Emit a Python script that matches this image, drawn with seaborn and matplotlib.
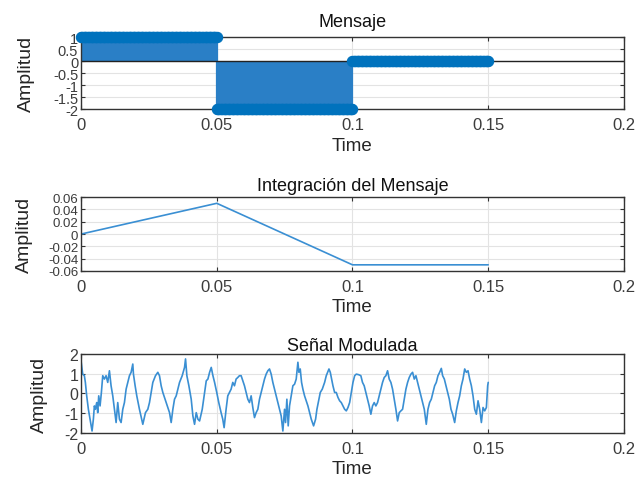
import numpy as np
import pandas as pd
import matplotlib
matplotlib.use("Agg")
import matplotlib.pyplot as plt
import seaborn as sns

# ---------------- data ----------------
# Message: piecewise constant levels, densely sampled (stem plot)
msg_seg_start = [0.0, 0.05, 0.10]
msg_seg_end = [0.05, 0.10, 0.15]
msg_levels = [1.0, -2.0, 0.0]
msg_step = 0.0005

# Integration of the message
int_time = [0.0, 0.05, 0.10, 0.15]
int_values = [0.0, 0.05, -0.05, -0.05]

# Modulated signal, time in ms
mod_time_ms = [
    0.0, 0.62, 1.23, 1.6, 2.09, 2.71, 3.32, 4.06, 4.55, 4.92, 5.29, 5.78, 6.15, 6.52,
    7.01, 7.5, 8.0, 8.61, 9.23, 9.84, 10.46, 11.07, 11.69, 12.3, 12.92, 13.53, 14.15,
    14.76, 15.38, 15.99, 16.61, 17.22, 17.84, 18.45, 19.07, 19.31, 19.93, 20.54, 21.52,
    22.76, 23.74, 24.6, 25.22, 25.83, 26.45, 27.43, 28.29, 28.9, 29.52, 30.14, 31.37,
    32.6, 33.21, 33.83, 34.44, 35.06, 35.67, 36.29, 37.27, 38.13, 38.5, 38.99, 39.73,
    40.59, 41.21, 41.82, 42.44, 43.05, 43.67, 44.65, 45.51, 46.13, 46.74, 47.36, 47.97,
    48.59, 49.2, 50.0,
    50.74, 51.6, 52.21, 52.71, 53.44, 54.06, 54.67, 55.29, 55.9, 56.52, 57.13, 57.75,
    58.36, 58.98, 59.59, 60.21, 60.82, 61.44, 62.05, 62.67, 63.28, 63.9, 64.51, 65.13,
    65.74, 66.36, 66.97, 67.59, 68.2, 68.82, 69.43, 70.05, 70.66, 71.28, 71.89, 72.51,
    73.12, 73.74, 74.35, 74.97, 75.34, 75.83, 76.32, 76.81, 77.43, 78.04, 78.66, 79.27,
    79.89, 80.26, 80.75, 81.24, 81.73, 82.35, 82.96, 83.58, 84.19, 84.81, 85.67, 86.41,
    86.9, 87.64, 88.13, 88.87, 89.73, 90.34, 91.33, 91.82, 92.31, 92.8, 93.42, 94.03,
    94.65, 95.26, 95.87, 96.49, 97.11, 97.72, 98.34, 98.95, 99.57, 100.18, 100.8, 101.4,
    102.3, 103.08, 103.69, 104.31, 104.92, 105.54, 106.15, 106.77, 107.38, 108.0, 108.61,
    109.23, 109.84, 110.46, 111.07, 111.69, 112.3, 112.92, 113.53, 114.15, 114.76,
    115.38, 115.99, 116.61, 117.22, 117.84, 118.45, 119.07, 119.68, 120.3, 120.91,
    121.53, 122.14, 122.76, 123.37, 123.99, 124.6, 125.22, 125.83, 126.45, 127.18,
    127.8, 128.41, 129.03, 129.64, 130.26, 130.87, 131.49, 132.1, 132.72, 133.21,
    133.83, 134.44, 135.06, 135.67, 136.29, 136.9, 137.64, 138.25, 138.87, 139.48,
    140.1, 140.71, 141.33, 141.94, 142.56, 143.17, 143.79, 144.4, 145.02, 145.63,
    146.25, 146.86, 147.48, 148.09, 148.71, 149.32, 149.8, 150.0,
]
mod_values = [
    1.66, 0.98, 0.9, 0.56, -0.12, -0.8, -1.3, -1.9, -1.3, -0.63, -0.8, -0.46, -0.97, -0.12,
    -0.63, 0.05, 0.9, 0.73, 0.9, 0.56, 1.15, 0.39, -0.12, -0.8, -1.47, -0.46, -1.3,
    -1.47, -0.8, -0.46, 0.22, 0.56, 0.9, 1.07, 1.49, 0.98, 0.39, -0.12, -0.8,
    -1.56, -0.97, -0.8, -0.46, 0.05, 0.56, 0.9, 1.07, 0.9, 0.39, 0.05, -0.46,
    -0.97, -1.47, -0.8, -0.29, -0.12, 0.22, 0.56, 0.9, 1.32, 1.75, 0.9, 0.39,
    -0.29, -1.14, -1.56, -0.97, -1.3, -1.39, -0.8, 0.05, 0.64, 0.73, 1.07, 1.32,
    0.9, 0.56, 0.05,
    -0.46, -0.97, -1.3, -1.73, -0.8, -0.12, 0.05, 0.22, 0.56, 0.39, 0.73, 0.81,
    0.9, 0.9, 0.64, 0.39, 0.05, -0.29, -0.46, -0.12, -0.71, -1.22, -0.97, -0.8,
    -0.29, 0.05, 0.39, 0.73, 0.98, 1.15, 1.24, 0.98, 0.56, 0.22, -0.12, -0.46,
    -0.8, -1.14, -1.9, -0.8, -1.47, -0.29, -1.64, -0.63, -0.12, 0.39, 0.47, 0.73,
    1.58, 1.07, 1.24, 0.56, 0.22, -0.12, -0.37, -0.63, -0.97, -1.3, -1.64, -1.3,
    -0.8, -0.29, 0.05, 0.22, 0.56, 0.9, 1.24, 1.07, 0.73, 0.39, 0.05, 0.05,
    -0.2, -0.37, -0.46, -0.63, -0.8, -0.88, -0.71, -0.46, 0.05, 0.56, 0.9, 0.98,
    0.95, 0.9, 0.56, 0.39, 0.05, -0.29, -0.63, -1.05, -0.63, -0.46, -0.63,
    -0.46, -0.12, 0.22, 0.56, 0.81, 0.9, 1.15, 0.73, 0.56, 0.22,
    -0.29, -0.8, -1.39, -0.97, -0.88, -0.8, -0.29, 0.22, 0.56, 0.81,
    0.98, 1.07, 0.73, 0.9, 0.56, 0.22, -0.12, -0.46, -0.8, -1.56,
    -0.8, -0.46, -0.29, 0.05, 0.39, 0.56, 0.9, 1.07, 1.27, 0.9,
    0.73, 0.39, 0.05, -0.29, -0.8, -1.05, -1.47, -0.88, -0.46, -0.12,
    0.39, 0.73, 1.24, 1.07, 1.15, 0.73, 0.39, -0.12, -0.8, -1.05,
    -0.37, -0.8, -1.47, -0.71, -0.88, -0.71, 0.39, 0.56,
]

x_ticks = [0, 0.05, 0.1, 0.15, 0.2]
x_tick_labels = ["0", "0.05", "0.1", "0.15", "0.2"]
msg_yticks = [-2, -1.5, -1, -0.5, 0, 0.5, 1]
msg_ytick_labels = ["-2", "-1.5", "-1", "-0.5", "0", "0.5", "1"]
int_yticks = [-0.06, -0.04, -0.02, 0, 0.02, 0.04, 0.06]
int_ytick_labels = ["-0.06", "-0.04", "-0.02", "0", "0.02", "0.04", "0.06"]
mod_yticks = [-2, -1, 0, 1, 2]
mod_ytick_labels = ["-2", "-1", "0", "1", "2"]

titles = ["Mensaje", "Integración del Mensaje", "Señal Modulada"]
x_label = "Time"
y_label = "Amplitud"

# ---------------- build tables ----------------
msg_t, msg_v = [], []
for s, e, lv in zip(msg_seg_start, msg_seg_end, msg_levels):
    tt = np.arange(s, e + msg_step / 2, msg_step)
    msg_t.extend(tt)
    msg_v.extend([lv] * len(tt))
df_msg = pd.DataFrame({"t": msg_t, "v": msg_v})
df_int = pd.DataFrame({"t": int_time, "v": int_values})
df_mod = pd.DataFrame({"t": np.array(mod_time_ms) / 1000.0, "v": mod_values})

# ---------------- style ----------------
sns.set_theme(style="whitegrid")
plt.rcParams["font.family"] = ["Liberation Sans", "DejaVu Sans"]

blue = "#0072BD"
stem_blue = "#2a7fc6"
line_blue = "#3a8fd3"
grid_col = "#e3e3e3"
frame_col = "#333333"
tick_col = "#3c3c3c"

fig = plt.figure(figsize=(6.35, 4.89), dpi=100)
ax1 = fig.add_axes([0.1276, 0.775, 0.855, 0.147])
ax2 = fig.add_axes([0.1276, 0.4438, 0.855, 0.151])
ax3 = fig.add_axes([0.1276, 0.1125, 0.855, 0.1616])


def style_axes(ax, yticks, ylabels, ylim, title, tpad, ysize, ylab_x):
    ax.set_xlim(0, 0.2)
    ax.set_ylim(*ylim)
    ax.set_xticks(x_ticks)
    ax.set_xticklabels(x_tick_labels)
    ax.set_yticks(yticks)
    ax.set_yticklabels(ylabels)
    ax.grid(True, color=grid_col, linewidth=0.8)
    ax.set_axisbelow(True)
    for sp in ax.spines.values():
        sp.set_color(frame_col)
        sp.set_linewidth(1.0)
        sp.set_visible(True)
    ax.tick_params(axis="both", direction="in", length=3, width=0.8,
                   colors=frame_col, labelcolor=tick_col, top=True, right=True,
                   bottom=True, left=True)
    ax.tick_params(axis="x", labelsize=12, pad=6)
    ax.tick_params(axis="y", labelsize=ysize, pad=2)
    ax.set_title(title, fontsize=13, color="#111111", pad=tpad)
    ax.set_xlabel(x_label, fontsize=13.5, color="#262626", labelpad=3)
    ax.set_ylabel(y_label, fontsize=14, color="#262626")
    ax.yaxis.set_label_coords(ylab_x, 0.5)


# --- top: stem plot ---
ax1.vlines(df_msg["t"], 0, df_msg["v"], color=stem_blue, linewidth=1.6, zorder=2)
sns.scatterplot(data=df_msg, x="t", y="v", ax=ax1, marker="o", s=55,
                color=blue, edgecolor=blue, linewidth=0.8, zorder=3,
                legend=False, clip_on=False)
ax1.axhline(0, color="#222222", linewidth=1.0, zorder=2.5)
style_axes(ax1, msg_yticks, msg_ytick_labels, (-2, 1), titles[0], 8, 10.5, -0.085)

# --- middle: integration ---
sns.lineplot(data=df_int, x="t", y="v", ax=ax2, color=line_blue, linewidth=1.2,
             estimator=None, sort=False)
style_axes(ax2, int_yticks, int_ytick_labels, (-0.06, 0.06), titles[1], 5, 9.5, -0.088)

# --- bottom: modulated signal ---
sns.lineplot(data=df_mod, x="t", y="v", ax=ax3, color=line_blue, linewidth=1.2,
             estimator=None, sort=False)
style_axes(ax3, mod_yticks, mod_ytick_labels, (-2, 2), titles[2], 3, 11.5, -0.061)

fig.savefig("out.png", dpi=100)
